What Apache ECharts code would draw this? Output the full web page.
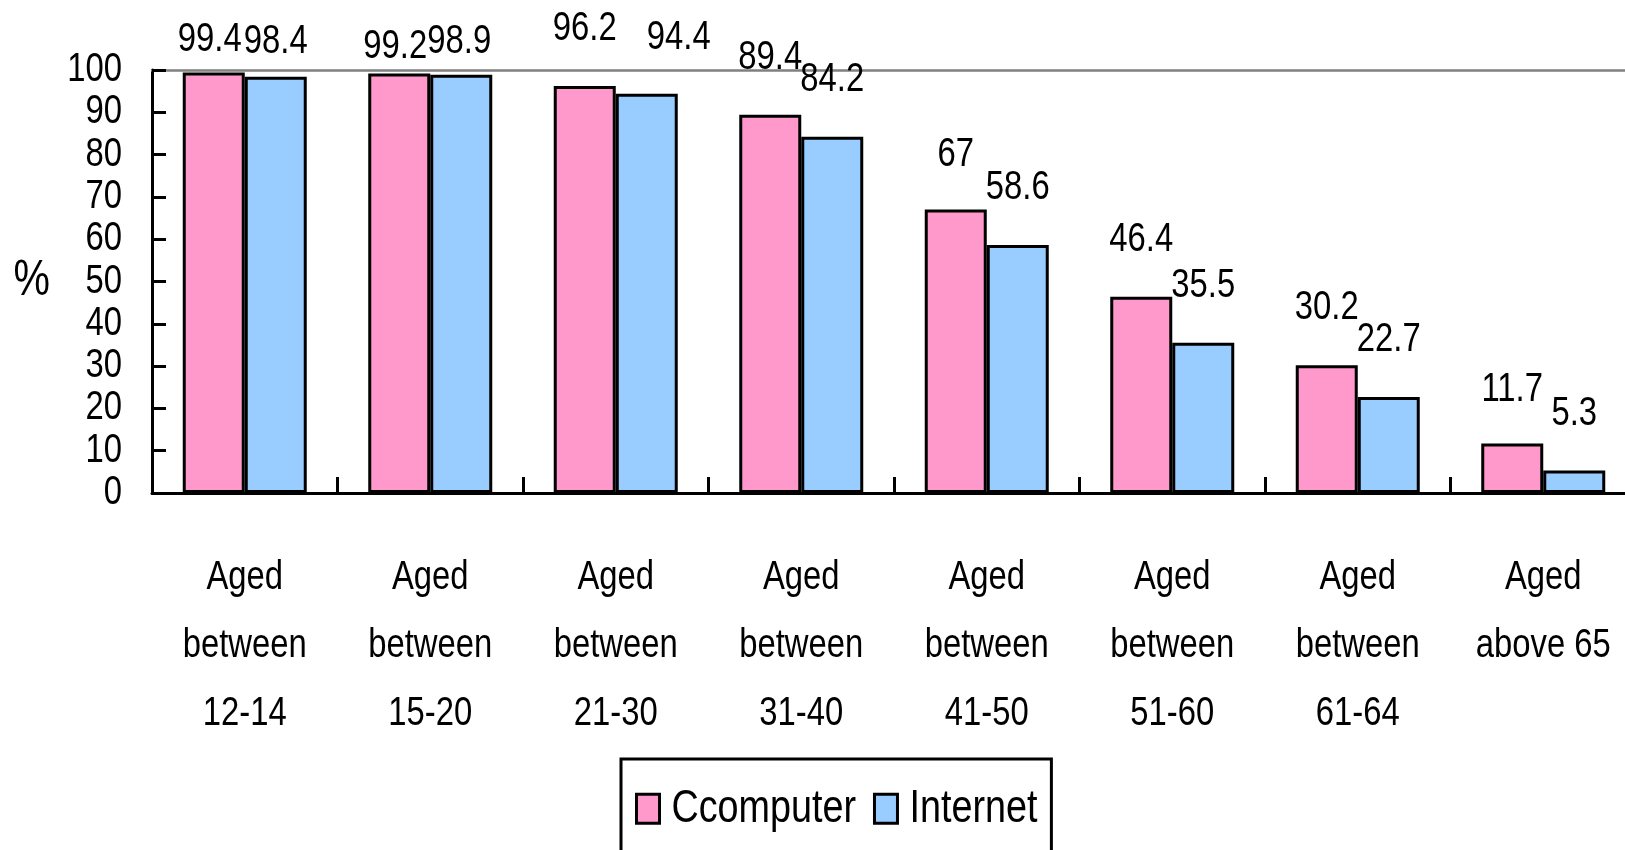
<!DOCTYPE html>
<html>
<head>
<meta charset="utf-8">
<script src="https://cdn.jsdelivr.net/npm/echarts@6/dist/echarts.min.js"></script>
<style>
  html, body { margin: 0; padding: 0; background: #fff; }
  #chart { width: 1625px; height: 850px; }
</style>
</head>
<body>
<div id="chart"></div>
<script>
// Share of people using a computer / the Internet, by age group (%)
const categories = [
  'Aged\nbetween\n12-14',
  'Aged\nbetween\n15-20',
  'Aged\nbetween\n21-30',
  'Aged\nbetween\n31-40',
  'Aged\nbetween\n41-50',
  'Aged\nbetween\n51-60',
  'Aged\nbetween\n61-64',
  'Aged\nabove 65'
];
const computerPct = [99.4, 99.2, 96.2, 89.4, 67, 46.4, 30.2, 11.7];
const internetPct = [98.4, 98.9, 94.4, 84.2, 58.6, 35.5, 22.7, 5.3];
const yTicks = { min: 0, max: 100, step: 10 };

// Small hand placements for value labels that sit crowded near the top edge
const computerLabelShift = { 0: [-4, 24], 1: [-4, 31], 4: [0, 2], 7: [0, 3] };
const internetLabelShift = { 0: [0, 22], 1: [-2, 24], 2: [32, 1] };

// Narrow sans: the regular sans face drawn at 82% width (as Arial Narrow is
// to Arial), applied to every canvas text call so measuring and drawing agree.
const NARROW = 0.82;
(function condenseCanvasText(k) {
  const P = CanvasRenderingContext2D.prototype;
  const origMeasure = P.measureText;
  const origFill = P.fillText;
  const origStroke = P.strokeText;
  P.measureText = function (text) {
    const m = origMeasure.call(this, text);
    return {
      width: m.width * k,
      actualBoundingBoxLeft: m.actualBoundingBoxLeft * k,
      actualBoundingBoxRight: m.actualBoundingBoxRight * k,
      actualBoundingBoxAscent: m.actualBoundingBoxAscent,
      actualBoundingBoxDescent: m.actualBoundingBoxDescent,
      fontBoundingBoxAscent: m.fontBoundingBoxAscent,
      fontBoundingBoxDescent: m.fontBoundingBoxDescent
    };
  };
  function scaled(orig) {
    return function (text, x, y, maxWidth) {
      this.save();
      this.translate(x, y);
      this.scale(k, 1);
      if (maxWidth !== undefined) orig.call(this, text, 0, 0, maxWidth / k);
      else orig.call(this, text, 0, 0);
      this.restore();
    };
  }
  P.fillText = scaled(origFill);
  P.strokeText = scaled(origStroke);
})(NARROW);

const FONT = "'Liberation Sans', Arial, sans-serif";
const PINK = '#FF99CC';
const BLUE = '#99CCFF';

function withShifts(values, shifts) {
  return values.map((v, i) => shifts[i]
    ? { value: v, label: { offset: shifts[i] } }
    : v);
}

const valueLabel = {
  show: true,
  position: 'top',
  distance: 37,
  color: '#000',
  fontFamily: FONT,
  fontSize: 40,
  lineHeight: 40
};

const chart = echarts.init(document.getElementById('chart'), null, { renderer: 'canvas' });

chart.setOption({
  backgroundColor: '#fff',
  animation: false,
  textStyle: { fontFamily: FONT, color: '#000' },
  grid: {
    left: 152,
    right: -11,
    top: 70,
    bottom: 357,
    containLabel: false,
    outerBoundsMode: 'none'
  },
  legend: {
    left: 621,
    top: 759,
    orient: 'horizontal',
    data: ['Ccomputer', 'Internet'],
    itemWidth: 23,
    itemHeight: 29,
    itemGap: 17,
    padding: [31, 14, 40, 14],
    borderColor: '#000',
    borderWidth: 3,
    icon: 'rect',
    itemStyle: { borderColor: '#000', borderWidth: 3 },
    textStyle: {
      fontFamily: FONT,
      fontSize: 46,
      color: '#000',
      padding: [0, 0, 0, 7]
    }
  },
  xAxis: [
    {
      type: 'category',
      data: categories,
      position: 'bottom',
      boundaryGap: true,
      axisLine: { show: true, lineStyle: { color: '#000', width: 3 } },
      axisTick: {
        show: true,
        inside: true,
        length: 16,
        alignWithLabel: false,
        lineStyle: { color: '#000', width: 3 }
      },
      axisLabel: {
        interval: 0,
        margin: 51,
        fontFamily: FONT,
        fontSize: 40,
        lineHeight: 68,
        color: '#000',
        align: 'center'
      },
      splitLine: { show: false }
    },
    {
      // grey rule along the top of the plot
      type: 'category',
      data: categories,
      position: 'top',
      axisLine: { show: true, lineStyle: { color: '#808080', width: 2.5 } },
      axisTick: { show: false },
      axisLabel: { show: false },
      splitLine: { show: false }
    }
  ],
  yAxis: {
    type: 'value',
    min: yTicks.min,
    max: yTicks.max,
    interval: yTicks.step,
    name: '%',
    nameLocation: 'middle',
    nameRotate: 0,
    nameGap: 102,
    nameTextStyle: { fontFamily: FONT, fontSize: 50, color: '#000' },
    axisLine: { show: true, lineStyle: { color: '#000', width: 3 } },
    axisTick: {
      show: true,
      inside: true,
      length: 14,
      lineStyle: { color: '#000', width: 3 }
    },
    axisLabel: {
      margin: 30,
      fontFamily: FONT,
      fontSize: 40,
      color: '#000'
    },
    splitLine: { show: false }
  },
  series: [
    {
      name: 'Ccomputer',
      type: 'bar',
      xAxisIndex: 0,
      data: withShifts(computerPct, computerLabelShift),
      barWidth: 62,
      barGap: '0%',
      itemStyle: { color: PINK, borderColor: '#000', borderWidth: 3 },
      label: valueLabel
    },
    {
      name: 'Internet',
      type: 'bar',
      xAxisIndex: 0,
      data: withShifts(internetPct, internetLabelShift),
      barWidth: 62,
      barGap: '0%',
      itemStyle: { color: BLUE, borderColor: '#000', borderWidth: 3 },
      label: valueLabel
    }
  ]
});
</script>
</body>
</html>
